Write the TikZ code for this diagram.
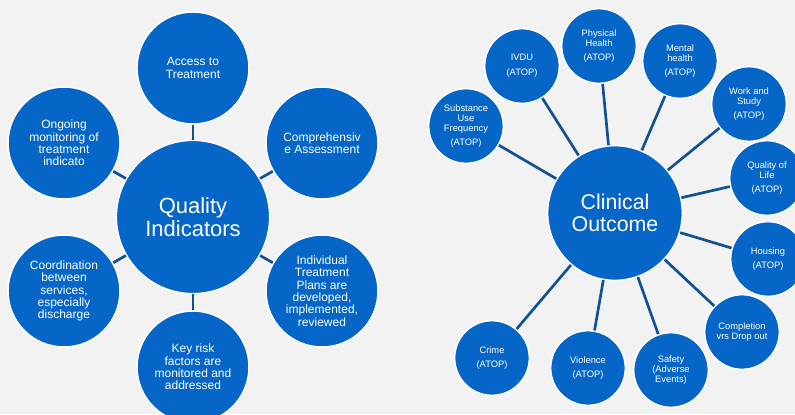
\documentclass[tikz,border=0pt]{standalone}
\usepackage{fontspec}
\setmainfont{Liberation Sans}
\definecolor{bgray}{RGB}{242,242,242}
\definecolor{dotblue}{RGB}{5,102,200}
\definecolor{linkblue}{RGB}{18,80,148}
\tikzset{
  hub/.style={circle,fill=dotblue,draw=white,line width=1.1pt,inner sep=0pt,
    text=white,align=center,font=\fontsize{16.5}{17.6}\selectfont},
  leaf/.style={hub,minimum size=84pt,font=\fontsize{9}{9.3}\selectfont},
  twig/.style={hub,minimum size=56pt,font=\fontsize{7}{7.4}\selectfont},
  link/.style={draw=linkblue,line width=2pt}
}
\begin{document}
\begin{tikzpicture}[x=0.75pt,y=-0.75pt]
\useasboundingbox (0,0) rectangle (795,414);
\fill[bgray] (0,0) rectangle (795,414);
\clip (0,0) rectangle (795,414);
% quality indicators, left
\node[hub,minimum size=115pt] (qi) at (193,217) {Quality\\Indicators};
\foreach \nm/\px/\py/\txt in {acc/193/68/{Access to\\Treatment},
  cmp/322/143/{Comprehensiv\\e Assessment},
  ind/322/291/{Individual\\Treatment\\Plans are\\developed,\\implemented,\\reviewed},
  key/193/367/{Key risk\\factors are\\monitored and\\addressed},
  crd/64/291/{Coordination\\between\\services,\\especially\\discharge},
  ong/64/143/{Ongoing\\monitoring of\\treatment\\indicato}}{
\node[leaf] (\nm) at (\px,\py) {\txt};
\draw[link] (qi) -- (\nm);}
% clinical outcome, right
\node[hub,minimum size=101pt,font=\fontsize{16}{16.8}\selectfont] (co) at (615,213) {Clinical\\Outcome};
\foreach \nm/\px/\py/\txt in {subs/466/126/{Substance\\Use\\Frequency\\[3pt](ATOP)},
  ivdu/522/66/{IVDU\\[3.5pt](ATOP)},
  phys/599/46/{Physical\\Health\\[3.5pt](ATOP)},
  ment/680/61/{Mental\\health\\[3pt](ATOP)},
  work/749/104/{Work and\\Study\\[3pt](ATOP)},
  qol/767/178/{Quality of\\Life\\[3pt](ATOP)},
  hous/768/259/{Housing\\[3.5pt](ATOP)},
  comp/742/332/{Completion\\vrs Drop out},
  safe/671/370/{Safety\\(Adverse\\Events)},
  viol/588/368/{Violence\\[3.5pt](ATOP)},
  crim/492/358/{Crime\\[3.5pt](ATOP)}}{
\node[twig] (\nm) at (\px,\py) {\txt};
\draw[link] (co) -- (\nm);}
\end{tikzpicture}
\end{document}
